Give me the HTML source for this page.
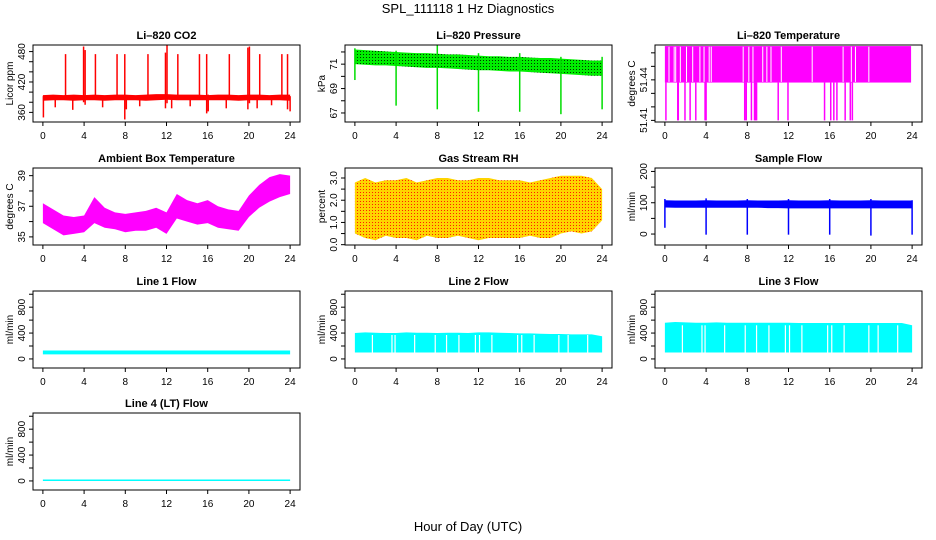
<!DOCTYPE html>
<html><head><meta charset="utf-8"><style>
body{margin:0;background:#fff}
svg{display:block;font-family:"Liberation Sans",Arial,sans-serif}
</style></head><body>
<svg id="chart" width="936" height="540" viewBox="0 0 936 540">
<defs>
<pattern id="rhPat" width="3" height="3" patternUnits="userSpaceOnUse"><rect width="3" height="3" fill="#FFD400"/><rect width="1" height="1" fill="#FF2000"/></pattern>
<pattern id="prPat" width="3" height="3" patternUnits="userSpaceOnUse"><rect width="3" height="3" fill="#00EE00"/><rect width="1" height="1" fill="#003300"/></pattern>
</defs>
<text x="468" y="13" text-anchor="middle" font-size="13">SPL_111118  1 Hz Diagnostics</text>
<text x="468" y="531" text-anchor="middle" font-size="13">Hour of Day (UTC)</text>
<g id="panels"></g>
</svg>
<script>
const hours=[0,1,2,3,4,5,6,7,8,9,10,11,12,13,14,15,16,17,18,19,20,21,22,23,24];
const xTicks=[0,4,8,12,16,20,24];
// CO2
const co2Lo=[383,384,384,383,384,384,383,384,384,384,383,384,385,384,384,384,384,384,384,383,384,384,384,384,383];
const co2Hi=[394,395,394,395,394,395,394,395,395,394,395,396,396,395,395,395,394,395,395,394,395,395,394,395,395];
const co2Spikes=[[0.05,350,392],[2.2,388,475],[3.95,380,490],[4.1,375,483],[5.1,388,475],[7.2,388,475],[7.95,346,475],[8.1,366,392],[10.2,388,475],[11.9,368,478],[12.05,378,495],[13.1,388,475],[15.2,388,475],[15.9,358,475],[16.05,362,395],[18.1,388,475],[19.9,366,488],[20.05,378,490],[21.05,388,475],[23.2,388,475],[23.75,366,475],[24,362,392],[1.2,370,392],[2.9,365,392],[5.8,370,392],[9.4,372,392],[12.5,368,392],[14.3,372,392],[17.8,368,392],[20.8,368,392],[22.2,374,392]];
// Pressure
const presHi=[72.2,72.15,72.1,72.05,72.0,71.95,71.9,71.9,71.85,71.8,71.8,71.75,71.7,71.65,71.65,71.6,71.6,71.55,71.5,71.5,71.45,71.4,71.35,71.3,71.3];
const presLo=[71.0,70.95,70.9,70.9,70.85,70.8,70.75,70.7,70.7,70.65,70.6,70.55,70.5,70.5,70.45,70.4,70.4,70.35,70.3,70.25,70.2,70.15,70.1,70.05,70.05];
const presDips=[[0,69.7,72.3],[4,67.6,72.1],[8,67.3,72.6],[12,67.1,71.9],[16,67.1,71.9],[20,66.9,71.6],[24,67.3,71.6]];
// Li-820 temperature
const tempHigh=51.465, tempMid=51.438, tempLow=51.41;
const tempDrops=[0.1,1.25,1.3,1.95,2.45,3.0,3.9,4.0,7.75,7.9,8.4,8.7,8.8,8.9,11.0,11.95,15.5,16.1,16.4,16.7,17.5,18.0,18.2];
const tempGaps=[0.4,0.9,1.05,1.5,2.1,2.7,3.4,3.8,4.3,4.5,7.6,8.15,8.55,9.5,9.9,10.3,11.3,14.3,17.3,18.1,18.5,19.8];
// Ambient
const ambLo=[35.9,35.5,35.1,35.2,35.3,35.9,35.6,35.5,35.3,35.4,35.4,35.6,35.2,36.2,36.0,35.8,35.9,35.6,35.5,35.4,36.3,36.9,37.3,37.6,37.8];
const ambHi=[37.2,36.8,36.4,36.3,36.4,37.6,36.9,36.6,36.5,36.6,36.7,36.9,36.6,37.8,37.4,37.2,37.4,37.0,36.8,36.7,37.7,38.4,38.9,39.1,39.0];
// RH
const rhLo=[0.5,0.3,0.2,0.4,0.3,0.3,0.2,0.4,0.3,0.3,0.4,0.3,0.2,0.3,0.3,0.3,0.3,0.4,0.3,0.3,0.5,0.6,0.5,0.6,1.1];
const rhHi=[2.8,3.0,2.8,2.9,2.9,3.0,2.8,2.9,3.0,3.0,2.9,2.9,3.0,3.0,2.9,2.9,2.9,2.8,2.9,3.0,3.1,3.1,3.1,3.0,2.5];
// Sample flow
const sfLo=[85,84,84,84,84,84,84,84,84,84,83,83,82,82,82,82,82,82,82,82,82,82,82,82,82];
const sfHi=[108,107,107,107,108,107,107,107,108,107,107,107,108,107,107,107,108,107,107,107,108,107,107,107,107];
const sfDips=[[0,20,112],[4,-2,114],[8,-2,112],[12,-2,112],[16,-2,112],[20,-5,112],[24,-2,108]];
// Line flows
const l1Lo=hours.map(()=>70), l1Hi=hours.map(()=>130);
const l2Lo=[100,100,100,100,100,100,100,100,100,100,100,100,100,100,100,100,100,100,100,100,100,100,100,100,100];
const l2Hi=[400,410,405,400,400,410,405,405,400,405,405,400,410,410,405,400,395,395,390,385,385,380,380,380,350];
const l3Lo=[100,100,100,100,100,100,100,100,100,100,100,100,100,100,100,100,100,100,100,100,100,100,100,100,100];
const l3Hi=[560,570,565,560,560,565,560,560,560,560,560,560,560,555,555,555,555,555,555,555,555,555,555,555,520];
const flowGaps=[1.7,3.6,3.9,5.8,7.8,8.9,10.1,11.7,12.1,13.3,15.8,16.2,17.4,19.8,20.7,22.6];
const l4Lo=hours.map(()=>0), l4Hi=hours.map(()=>22);

const NS="http://www.w3.org/2000/svg";
const root=document.getElementById('panels');
const colX=[33,345,655], rowY=[45,168,291,413], W=267, H=77;
function mk(tag,attrs,parent){const e=document.createElementNS(NS,tag);for(const k in attrs)e.setAttribute(k,attrs[k]);parent.appendChild(e);return e;}

function panel(name,col,row,title,ytitle,ymin,ymax,yt,ylabs,drawFn){
  const x0=colX[col], y0=rowY[row];
  const g=mk('g',{},root);
  
  
  const xs=h=>x0+(h+0.96)/25.92*W;
  const ys=v=>y0+H-(v-ymin)/(ymax-ymin)*H;
  const clip=mk('clipPath',{id:'c'+name},g);
  mk('rect',{x:x0,y:y0,width:W,height:H},clip);
  const data=mk('g',{'clip-path':'url(#c'+name+')'},g);
  
  
  drawFn(data,xs,ys);
  const box=mk('rect',{x:x0,y:y0,width:W,height:H,fill:'none',stroke:'#000','stroke-width':1},g);
  
  
  const t=mk('text',{x:x0+W/2,y:y0-6,'text-anchor':'middle','font-size':11,'font-weight':'bold'},g);
  t.textContent=title;
  
  
  const xa=mk('g',{},g);
  
  
  mk('line',{x1:xs(0),x2:xs(24),y1:y0+H,y2:y0+H,stroke:'#000'},xa);
  xTicks.forEach(h=>{
    mk('line',{x1:xs(h),x2:xs(h),y1:y0+H,y2:y0+H+4,stroke:'#000'},xa);
    const l=mk('text',{x:xs(h),y:y0+H+17,'text-anchor':'middle','font-size':10},xa);
    l.textContent=h;
    
    
  });
  const ya=mk('g',{},g);
  
  
  mk('line',{x1:x0,x2:x0,y1:ys(yt[0]),y2:ys(yt[yt.length-1]),stroke:'#000'},ya);
  yt.forEach(v=>{mk('line',{x1:x0-4,x2:x0,y1:ys(v),y2:ys(v),stroke:'#000'},ya);});
  ylabs.forEach(v=>{
    const l=mk('text',{x:0,y:0,'text-anchor':'middle','font-size':10,transform:`translate(${x0-8},${ys(v[0])}) rotate(-90)`},ya);
    l.textContent=v[1];
    
    
  });
  const yl=mk('text',{x:0,y:0,'text-anchor':'middle','font-size':10,transform:`translate(${x0-20},${y0+H/2}) rotate(-90)`},g);
  yl.textContent=ytitle;
  
  
}
function band(g,xs,ys,lo,hi,fill){
  let pts=hours.map((h,i)=>xs(h)+','+ys(hi[i]));
  pts=pts.concat(hours.map((h,i)=>xs(h)+','+ys(lo[i])).reverse());
  const p=mk('polygon',{points:pts.join(' '),fill:fill},g);
  
  
}
function vlines(g,xs,ys,arr,color,w){
  arr.forEach(s=>{
    const l=mk('line',{x1:xs(s[0]),x2:xs(s[0]),y1:ys(s[1]),y2:ys(s[2]),stroke:color,'stroke-width':w},g);
    
    
  });
}
const rng=(a,b,s)=>{const r=[];for(let v=a;v<=b+1e-9;v+=s)r.push(+v.toFixed(4));return r;};

panel('co2',0,0,'Li–820 CO2','Licor ppm',341,493,rng(360,480,20),[[360,'360'],[420,'420'],[480,'480']],(g,xs,ys)=>{
  band(g,xs,ys,co2Lo,co2Hi,'#FF0000');vlines(g,xs,ys,co2Spikes,'#FF0000',1.5);});
panel('pressure',1,0,'Li–820 Pressure','kPa',66.26,72.57,rng(67,72,1),[[67,'67'],[69,'69'],[71,'71']],(g,xs,ys)=>{
  band(g,xs,ys,presLo,presHi,'url(#prPat)');vlines(g,xs,ys,presDips,'#00DD00',1.5);});
panel('li-temp',2,0,'Li–820 Temperature','degrees C',51.4088,51.4658,rng(51.41,51.46,0.01),[[51.41,'51.41'],[51.44,'51.44']],(g,xs,ys)=>{
  const r=mk('rect',{x:xs(0),y:ys(tempHigh),width:xs(23.9)-xs(0),height:ys(tempMid)-ys(tempHigh),fill:'#FF00FF'},g);
  
  
  vlines(g,xs,ys,tempGaps.map(h=>[h,tempMid+0.0005,tempHigh-0.0005]),'#FFFFFF',1);
  vlines(g,xs,ys,tempDrops.map(h=>[h,tempLow,tempMid]),'#FF00FF',1.5);});
panel('ambient',0,1,'Ambient Box Temperature','degrees C',34.47,39.5,rng(35,39,1),[[35,'35'],[37,'37'],[39,'39']],(g,xs,ys)=>{
  band(g,xs,ys,ambLo,ambHi,'#FF00FF');});
panel('rh',1,1,'Gas Stream RH','percent',-0.015,3.45,rng(0,3,0.5),[[0,'0.0'],[1,'1.0'],[2,'2.0'],[3,'3.0']],(g,xs,ys)=>{
  band(g,xs,ys,rhLo,rhHi,'url(#rhPat)');});
panel('sample-flow',2,1,'Sample Flow','ml/min',-35,211,rng(0,200,50),[[0,'0'],[100,'100'],[200,'200']],(g,xs,ys)=>{
  band(g,xs,ys,sfLo,sfHi,'#0000FF');vlines(g,xs,ys,sfDips,'#0000FF',1.5);});
const ft=rng(0,1000,200), fl=[[0,'0'],[400,'400'],[800,'800']];
panel('line1',0,2,'Line 1 Flow','ml/min',-140,1050,ft,fl,(g,xs,ys)=>{band(g,xs,ys,l1Lo,l1Hi,'#00FFFF');});
panel('line2',1,2,'Line 2 Flow','ml/min',-140,1050,ft,fl,(g,xs,ys)=>{band(g,xs,ys,l2Lo,l2Hi,'#00FFFF');
  vlines(g,xs,ys,flowGaps.map(h=>[h,90,370]),'#FFFFFF',1.2);});
panel('line3',2,2,'Line 3 Flow','ml/min',-140,1050,ft,fl,(g,xs,ys)=>{band(g,xs,ys,l3Lo,l3Hi,'#00FFFF');
  vlines(g,xs,ys,flowGaps.map(h=>[h,90,520]),'#FFFFFF',1.2);});
panel('line4',0,3,'Line 4 (LT) Flow','ml/min',-140,1050,ft,fl,(g,xs,ys)=>{band(g,xs,ys,l4Lo,l4Hi,'#00FFFF');});
</script>
</body></html>
